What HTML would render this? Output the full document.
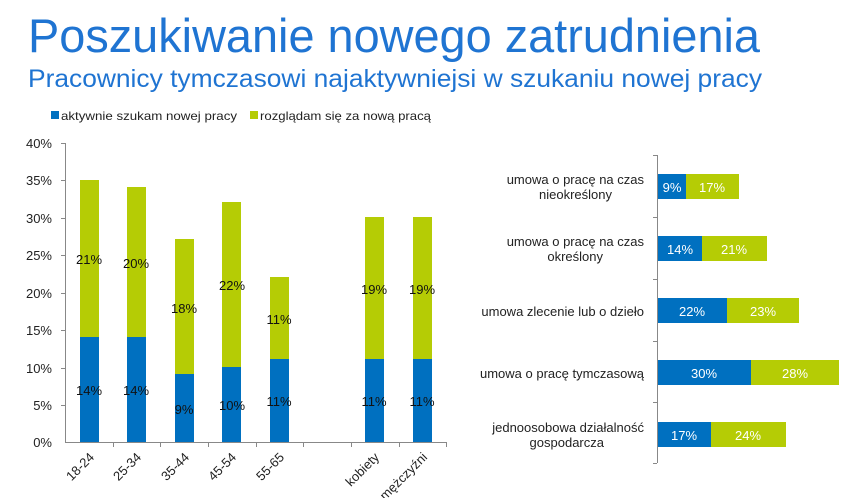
<!DOCTYPE html>
<html><head><meta charset="utf-8"><style>
html,body{margin:0;padding:0;background:#fff;}
svg{display:block;font-family:"Liberation Sans",Verdana,sans-serif;}
</style></head><body>
<svg width="856" height="498" viewBox="0 0 856 498" xmlns="http://www.w3.org/2000/svg">
<text x="28" y="52" font-size="47" fill="#1f74d2" textLength="732" lengthAdjust="spacingAndGlyphs">Poszukiwanie nowego zatrudnienia</text>
<text x="28" y="87" font-size="25" fill="#1f74d2" textLength="734" lengthAdjust="spacingAndGlyphs">Pracownicy tymczasowi najaktywniejsi w szukaniu nowej pracy</text>
<!-- legend -->
<rect x="51" y="111" width="8" height="8" fill="#0070c0"/>
<text x="61" y="120" font-size="12" fill="#222" textLength="176" lengthAdjust="spacingAndGlyphs">aktywnie szukam nowej pracy</text>
<rect x="250" y="111" width="8" height="8" fill="#b5cc05"/>
<text x="260" y="120" font-size="12" fill="#222" textLength="171" lengthAdjust="spacingAndGlyphs">rozglądam się za nową pracą</text>
<!-- left axes -->
<g stroke="#888" stroke-width="1">
<line x1="65.5" y1="143" x2="65.5" y2="442"/>
<line x1="65" y1="442.5" x2="447" y2="442.5"/>
<line x1="61" y1="143.5" x2="65" y2="143.5"/><line x1="61" y1="180.5" x2="65" y2="180.5"/>
<line x1="61" y1="218.5" x2="65" y2="218.5"/><line x1="61" y1="255.5" x2="65" y2="255.5"/>
<line x1="61" y1="293.5" x2="65" y2="293.5"/><line x1="61" y1="330.5" x2="65" y2="330.5"/>
<line x1="61" y1="368.5" x2="65" y2="368.5"/><line x1="61" y1="405.5" x2="65" y2="405.5"/>
<line x1="113.5" y1="442" x2="113.5" y2="447"/><line x1="160.5" y1="442" x2="160.5" y2="447"/>
<line x1="208.5" y1="442" x2="208.5" y2="447"/><line x1="256.5" y1="442" x2="256.5" y2="447"/>
<line x1="303.5" y1="442" x2="303.5" y2="447"/><line x1="351.5" y1="442" x2="351.5" y2="447"/>
<line x1="399.5" y1="442" x2="399.5" y2="447"/><line x1="446.5" y1="442" x2="446.5" y2="447"/>
</g>
<g font-size="13" fill="#222" text-anchor="end">
<text x="52" y="148">40%</text><text x="52" y="185">35%</text><text x="52" y="223">30%</text>
<text x="52" y="260">25%</text><text x="52" y="298">20%</text><text x="52" y="335">15%</text>
<text x="52" y="373">10%</text><text x="52" y="410">5%</text><text x="52" y="447">0%</text>
</g>
<!-- bars: 7.5px per % ; zero at 442 -->
<g>
<rect x="80" y="337" width="19" height="105" fill="#0070c0"/><rect x="80" y="180" width="19" height="157" fill="#b5cc05"/>
<rect x="127" y="337" width="19" height="105" fill="#0070c0"/><rect x="127" y="187" width="19" height="150" fill="#b5cc05"/>
<rect x="175" y="374" width="19" height="68" fill="#0070c0"/><rect x="175" y="239" width="19" height="135" fill="#b5cc05"/>
<rect x="222" y="367" width="19" height="75" fill="#0070c0"/><rect x="222" y="202" width="19" height="165" fill="#b5cc05"/>
<rect x="270" y="359" width="19" height="83" fill="#0070c0"/><rect x="270" y="277" width="19" height="82" fill="#b5cc05"/>
<rect x="365" y="359" width="19" height="83" fill="#0070c0"/><rect x="365" y="217" width="19" height="142" fill="#b5cc05"/>
<rect x="413" y="359" width="19" height="83" fill="#0070c0"/><rect x="413" y="217" width="19" height="142" fill="#b5cc05"/>
</g>
<g font-size="13" fill="#111" text-anchor="middle">
<text x="89" y="395">14%</text><text x="89" y="264">21%</text>
<text x="136" y="395">14%</text><text x="136" y="268">20%</text>
<text x="184" y="414">9%</text><text x="184" y="313">18%</text>
<text x="232" y="410">10%</text><text x="232" y="290">22%</text>
<text x="279" y="406">11%</text><text x="279" y="324">11%</text>
<text x="374" y="406">11%</text><text x="374" y="294">19%</text>
<text x="422" y="406">11%</text><text x="422" y="294">19%</text>
</g>
<g font-size="13" fill="#222" text-anchor="end">
<text transform="translate(95,458) rotate(-45)">18-24</text>
<text transform="translate(142,458) rotate(-45)">25-34</text>
<text transform="translate(190,458) rotate(-45)">35-44</text>
<text transform="translate(237,458) rotate(-45)">45-54</text>
<text transform="translate(285,458) rotate(-45)">55-65</text>
<text transform="translate(380,458) rotate(-45)">kobiety</text>
<text transform="translate(428,458) rotate(-45)">mężczyźni</text>
</g>
<!-- right chart -->
<g stroke="#888" stroke-width="1">
<line x1="657.5" y1="155" x2="657.5" y2="463"/>
<line x1="653" y1="155.5" x2="657" y2="155.5"/><line x1="653" y1="217.5" x2="657" y2="217.5"/>
<line x1="653" y1="279.5" x2="657" y2="279.5"/><line x1="653" y1="341.5" x2="657" y2="341.5"/>
<line x1="653" y1="402.5" x2="657" y2="402.5"/><line x1="653" y1="463.5" x2="657" y2="463.5"/>
</g>
<g>
<rect x="658" y="174" width="28" height="25" fill="#0070c0"/><rect x="686" y="174" width="53" height="25" fill="#b5cc05"/>
<rect x="658" y="236" width="44" height="25" fill="#0070c0"/><rect x="702" y="236" width="65" height="25" fill="#b5cc05"/>
<rect x="658" y="298" width="69" height="25" fill="#0070c0"/><rect x="727" y="298" width="72" height="25" fill="#b5cc05"/>
<rect x="658" y="360" width="93" height="25" fill="#0070c0"/><rect x="751" y="360" width="88" height="25" fill="#b5cc05"/>
<rect x="658" y="422" width="53" height="25" fill="#0070c0"/><rect x="711" y="422" width="75" height="25" fill="#b5cc05"/>
</g>
<g font-size="13" fill="#fff" text-anchor="middle">
<text x="672" y="192">9%</text><text x="712" y="192">17%</text>
<text x="680" y="254">14%</text><text x="734" y="254">21%</text>
<text x="692" y="316">22%</text><text x="763" y="316">23%</text>
<text x="704" y="378">30%</text><text x="795" y="378">28%</text>
<text x="684" y="440">17%</text><text x="748" y="440">24%</text>
</g>
<g font-size="13" fill="#222" text-anchor="end">
<text x="644" y="184">umowa o pracę na czas</text><text x="612" y="199">nieokreślony</text>
<text x="644" y="246">umowa o pracę na czas</text><text x="603" y="261">określony</text>
<text x="644" y="316">umowa zlecenie lub o dzieło</text>
<text x="644" y="378">umowa o pracę tymczasową</text>
<text x="644" y="432">jednoosobowa działalność</text><text x="604" y="447">gospodarcza</text>
</g>
</svg>
</body></html>
